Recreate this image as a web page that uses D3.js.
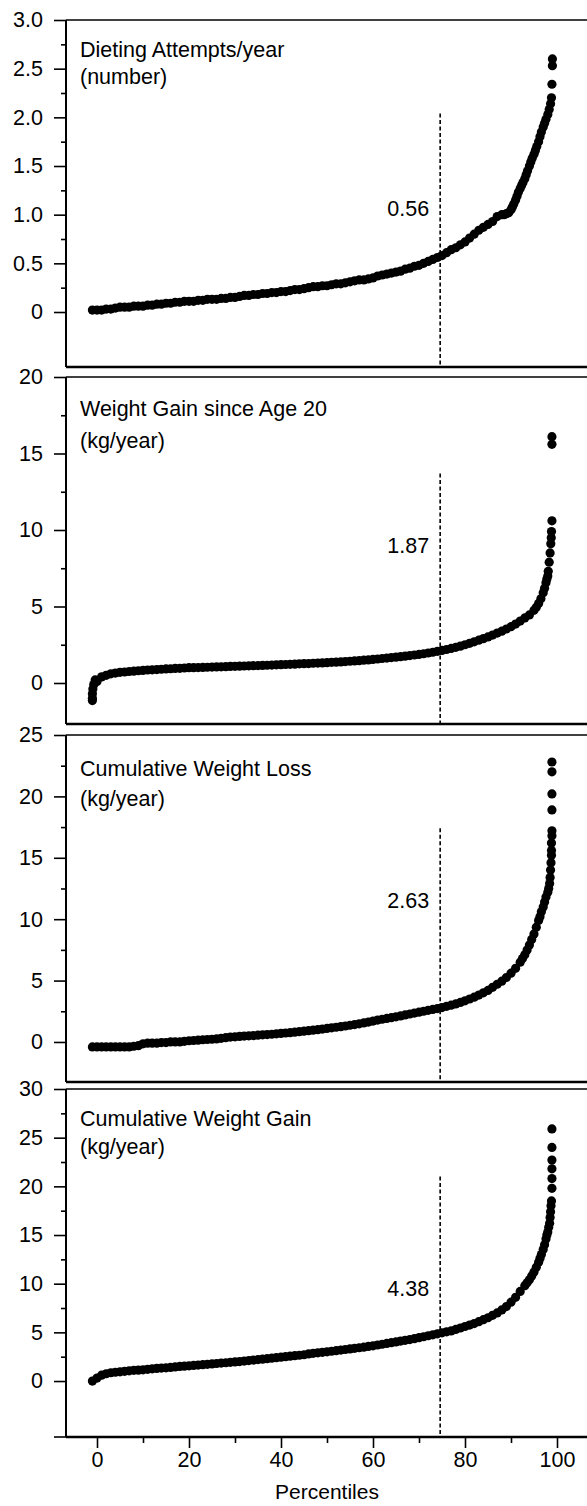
<!DOCTYPE html>
<html>
<head>
<meta charset="utf-8">
<script src="https://cdn.jsdelivr.net/npm/d3@7"></script>
<style>
  body { margin: 0; background: #fff; }
  text { font-family: "Liberation Sans", Arial, Helvetica, sans-serif; }
</style>
</head>
<body>
<div id="root"></div>
<script>
// percentile ranks of the plotted dots
const pct = [-1, 0, 1, 2, 3, 4, 5, 6, 7, 8, 9, 10, 11, 12, 13, 14, 15, 16, 17, 18, 19,
  20, 21, 22, 23, 24, 25, 26, 27, 28, 29, 30, 31, 32, 33, 34, 35, 36, 37, 38, 39,
  40, 41, 42, 43, 44, 45, 46, 47, 48, 49, 50, 51, 52, 53, 54, 55, 56, 57, 58, 59,
  60, 61, 62, 63, 64, 65, 66, 67, 68, 69, 70, 71, 72, 73, 74, 75, 76, 77, 78, 79,
  80, 81, 82, 83, 84, 85, 86, 87, 88, 89, 90, 91, 92, 93, 94, 95, 96, 97, 98];

const dietingAttempts = [0.02, 0.02, 0.02, 0.03, 0.03, 0.04, 0.05, 0.05, 0.05, 0.06, 0.06,
  0.06, 0.07, 0.07, 0.08, 0.08, 0.09, 0.09, 0.10, 0.10, 0.11,
  0.11, 0.11, 0.12, 0.12, 0.13, 0.13, 0.13, 0.14, 0.14, 0.15,
  0.15, 0.16, 0.17, 0.17, 0.18, 0.18, 0.19, 0.19, 0.20, 0.20,
  0.21, 0.21, 0.22, 0.23, 0.23, 0.24, 0.25, 0.26, 0.26, 0.27,
  0.27, 0.28, 0.29, 0.29, 0.30, 0.31, 0.32, 0.33, 0.33, 0.34,
  0.35, 0.37, 0.38, 0.39, 0.40, 0.41, 0.42, 0.44, 0.45, 0.47,
  0.48, 0.50, 0.52, 0.54, 0.56, 0.58, 0.61, 0.64, 0.66, 0.69,
  0.72, 0.76, 0.80, 0.84, 0.87, 0.90, 0.93, 0.98, 1.00, 1.01,
  1.05, 1.15, 1.27, 1.37, 1.50, 1.62, 1.75, 1.90, 2.03];
// extra dots where the curve climbs steeply
const dietingExtra = [[88.5, 1.00], [89.5, 1.02], [90.3, 1.08], [90.6, 1.11], [91.3, 1.19], [91.6, 1.23],
  [92.3, 1.30], [92.6, 1.33], [93.3, 1.41], [93.6, 1.45], [94.3, 1.54], [94.6, 1.58],
  [95.3, 1.66], [95.6, 1.70], [96.3, 1.80], [96.6, 1.85], [97.3, 1.94], [97.6, 1.98],
  [98.3, 2.08], [98.6, 2.14], [98.8, 2.2], [98.9, 2.34], [99, 2.53], [99, 2.6]];

const weightGain20 = [-1.0, 0.1, 0.4, 0.5, 0.6, 0.65, 0.7, 0.72, 0.75, 0.77, 0.8,
  0.82, 0.85, 0.86, 0.88, 0.9, 0.92, 0.93, 0.95, 0.96, 0.98,
  1.0, 1.0, 1.01, 1.02, 1.03, 1.04, 1.05, 1.06, 1.07, 1.08,
  1.09, 1.1, 1.11, 1.12, 1.13, 1.14, 1.15, 1.16, 1.17, 1.19,
  1.2, 1.21, 1.22, 1.23, 1.25, 1.26, 1.27, 1.29, 1.3, 1.31,
  1.33, 1.35, 1.36, 1.38, 1.4, 1.42, 1.44, 1.46, 1.49, 1.51,
  1.54, 1.57, 1.6, 1.63, 1.66, 1.69, 1.72, 1.75, 1.79, 1.83,
  1.87, 1.91, 1.96, 2.01, 2.07, 2.13, 2.19, 2.26, 2.33, 2.41,
  2.5, 2.59, 2.69, 2.8, 2.9, 3.01, 3.13, 3.26, 3.39, 3.53,
  3.68, 3.85, 4.05, 4.25, 4.45, 4.75, 5.2, 5.9, 7.0];
const weightGain20Extra = [[-1, -1.15], [-1, -0.7], [-0.9, -0.4], [-0.7, -0.1], [-0.4, 0.2],
  [95.5, 4.95], [96.5, 5.5], [97.3, 6.2], [97.6, 6.55], [97.8, 6.8],
  [98.1, 7.3], [98.3, 7.9], [98.5, 8.5], [98.65, 9.1], [98.75, 9.5], [98.8, 9.9],
  [98.9, 10.6], [98.9, 15.6], [98.9, 16.1]];

const cumLoss = [-0.4, -0.4, -0.4, -0.4, -0.4, -0.4, -0.4, -0.4, -0.4, -0.35, -0.3,
  -0.15, -0.1, -0.1, -0.1, -0.05, -0.05, 0, 0, 0, 0.05,
  0.1, 0.12, 0.15, 0.18, 0.2, 0.22, 0.25, 0.3, 0.35, 0.4,
  0.42, 0.45, 0.48, 0.5, 0.52, 0.55, 0.58, 0.6, 0.63, 0.66,
  0.7, 0.73, 0.76, 0.8, 0.84, 0.88, 0.92, 0.96, 1.0, 1.05,
  1.1, 1.15, 1.2, 1.25, 1.3, 1.36, 1.42, 1.48, 1.55, 1.62,
  1.7, 1.78, 1.85, 1.92, 1.98, 2.05, 2.12, 2.2, 2.28, 2.35,
  2.43, 2.5, 2.58, 2.65, 2.72, 2.8, 2.9, 3.0, 3.1, 3.22,
  3.35, 3.5, 3.65, 3.82, 4.0, 4.2, 4.45, 4.7, 4.95, 5.25,
  5.6, 6.0, 6.5, 7.1, 7.9, 8.8, 9.9, 11.0, 12.2];
const cumLossExtra = [[92.5, 6.8], [93.5, 7.5], [94.5, 8.35], [95.5, 9.35], [96.3, 10.2], [96.6, 10.6],
  [97.3, 11.4], [97.6, 11.8], [98.2, 12.5], [98.4, 12.9], [98.5, 13.4], [98.6, 14.0],
  [98.7, 14.6], [98.8, 15.2], [98.8, 15.6], [98.8, 16.2], [98.9, 16.8],
  [98.9, 17.2], [98.9, 18.9], [98.9, 20.2], [98.9, 22.0], [98.9, 22.8]];

const cumGain = [0.0, 0.3, 0.6, 0.75, 0.85, 0.9, 0.95, 1.0, 1.05, 1.1, 1.12,
  1.15, 1.2, 1.25, 1.3, 1.33, 1.36, 1.4, 1.45, 1.5, 1.53,
  1.56, 1.6, 1.64, 1.68, 1.72, 1.76, 1.8, 1.84, 1.88, 1.92,
  1.96, 2.0, 2.05, 2.1, 2.15, 2.2, 2.25, 2.3, 2.35, 2.4,
  2.45, 2.5, 2.55, 2.6, 2.65, 2.7, 2.78, 2.85, 2.9, 2.95,
  3.0, 3.06, 3.12, 3.18, 3.24, 3.3, 3.36, 3.42, 3.48, 3.55,
  3.62, 3.7, 3.78, 3.86, 3.94, 4.02, 4.1, 4.18, 4.26, 4.35,
  4.45, 4.55, 4.65, 4.75, 4.85, 4.95, 5.05, 5.15, 5.3, 5.45,
  5.6, 5.75, 5.9, 6.1, 6.3, 6.5, 6.75, 7.0, 7.3, 7.65,
  8.1, 8.6, 9.2, 9.8, 10.4, 11.2, 12.2, 13.5, 15.3];
const cumGainExtra = [[93.5, 10.1], [94.5, 10.8], [95.5, 11.7], [96.3, 12.6], [96.6, 13.0],
  [97.3, 14.0], [97.6, 14.6], [97.8, 15.0], [98.2, 15.8], [98.4, 16.2], [98.5, 16.8],
  [98.6, 17.4], [98.7, 18.0], [98.8, 18.5], [98.9, 19.8], [98.9, 20.8],
  [98.9, 21.8], [98.9, 22.7], [98.9, 24.0], [98.9, 25.9]];

const titles = [
  ["Dieting Attempts/year", "(number)"],
  ["Weight Gain since Age 20", "(kg/year)"],
  ["Cumulative Weight Loss", "(kg/year)"],
  ["Cumulative Weight Gain", "(kg/year)"]
];
const medianLabels = ["0.56", "1.87", "2.63", "4.38"];
const yMax = [3, 20, 25, 30];
const yStep = [0.5, 5, 5, 5];
const xTicks = [0, 20, 40, 60, 80, 100];
const xMinorTicks = [10, 30, 50, 70, 90];
const cutoffPct = 74.6;

const series = [dietingAttempts, weightGain20, cumLoss, cumGain];
const extras = [dietingExtra, weightGain20Extra, cumLossExtra, cumGainExtra];

// layout
let width = 587, height = 1506;
let axisX = 66;
let tops = [20, 377, 735, 1089];
let bottoms = [367, 724, 1082, 1437];
let yMin = [-0.565, -2.68, -3.26, -5.75];
let dashTop = [2.04, 13.7, 17.4, 21];
let labelAt = [1.06, 9.0, 11.5, 9.5];
let titleOffsets = [[37, 64], [39, 71], [41, 71], [37, 65]];
let fontSize = 21.5;

let svg = d3.select('#root').append('svg')
    .attr('width', width)
    .attr('height', height);

let x = d3.scaleLinear().domain([0, 100]).range([97, 557]);

series.forEach(function (vals, i) {
    let top = tops[i], bottom = bottoms[i];
    let y = d3.scaleLinear().domain([yMin[i], yMax[i]]).range([bottom, top]);
    let g = svg.append('g').attr('class', 'panel');

    // frame (right side runs off the picture)
    g.append('line').attr('x1', axisX).attr('x2', width + 5).attr('y1', top).attr('y2', top)
        .attr('stroke', '#000').attr('stroke-width', 1.6);
    g.append('line').attr('x1', axisX).attr('x2', width + 5).attr('y1', bottom).attr('y2', bottom)
        .attr('stroke', '#000').attr('stroke-width', 2.4);
    g.append('line').attr('x1', axisX).attr('x2', axisX).attr('y1', top).attr('y2', bottom)
        .attr('stroke', '#000').attr('stroke-width', 2);

    let major = d3.range(0, yMax[i] + yStep[i] / 10, yStep[i]);
    let minor = d3.range(yStep[i] / 2, yMax[i], yStep[i]);
    let fmt = yStep[i] < 1 ? (d => d === 0 ? "0" : d3.format(".1f")(d)) : d3.format("d");

    let yAxis = g.append('g').attr('transform', 'translate(' + axisX + ',0)')
        .call(d3.axisLeft(y).tickValues(major).tickSize(12).tickPadding(11).tickFormat(fmt));
    yAxis.select('.domain').remove();
    yAxis.selectAll('line').attr('stroke-width', 1.6);
    yAxis.selectAll('text').style('font-size', fontSize + 'px').attr('fill', '#000');

    let yMinorAxis = g.append('g').attr('transform', 'translate(' + axisX + ',0)')
        .call(d3.axisLeft(y).tickValues(minor).tickSize(5).tickFormat(''));
    yMinorAxis.select('.domain').remove();
    yMinorAxis.selectAll('line').attr('stroke-width', 1.6);

    // titles
    g.append('text').attr('x', 80).attr('y', top + titleOffsets[i][0])
        .style('font-size', fontSize + 'px').text(titles[i][0]);
    g.append('text').attr('x', 80).attr('y', top + titleOffsets[i][1])
        .style('font-size', fontSize + 'px').text(titles[i][1]);

    // 75th percentile cut-off
    g.append('line')
        .attr('x1', x(cutoffPct)).attr('x2', x(cutoffPct))
        .attr('y1', y(dashTop[i])).attr('y2', bottom)
        .attr('stroke', '#000').attr('stroke-width', 1.6)
        .attr('stroke-dasharray', '4,2.5');

    g.append('text')
        .attr('x', x(cutoffPct) - 11).attr('y', y(labelAt[i]))
        .attr('dy', '0.35em')
        .attr('text-anchor', 'end')
        .style('font-size', fontSize + 'px')
        .text(medianLabels[i]);

    let pts = vals.map((v, j) => [pct[j], v]).concat(extras[i]);
    g.selectAll('.dot')
        .data(pts)
        .enter().append('circle')
        .attr('class', 'dot')
        .attr('cx', d => x(d[0]))
        .attr('cy', d => y(d[1]))
        .attr('r', 4.6)
        .attr('fill', '#000');
});

// shared percentile axis under the last panel
let xAxis = svg.append('g').attr('transform', 'translate(0,' + bottoms[3] + ')')
    .call(d3.axisBottom(x).tickValues(xTicks).tickSize(11).tickPadding(4));
xAxis.select('.domain').remove();
xAxis.selectAll('line').attr('stroke-width', 1.6);
xAxis.selectAll('text').style('font-size', fontSize + 'px').attr('fill', '#000');

let xMinorAxis = svg.append('g').attr('transform', 'translate(0,' + bottoms[3] + ')')
    .call(d3.axisBottom(x).tickValues(xMinorTicks).tickSize(6).tickFormat(''));
xMinorAxis.select('.domain').remove();
xMinorAxis.selectAll('line').attr('stroke-width', 1.6);

// bottom axis line starts at the tick stub left of the frame
svg.append('line').attr('x1', 54).attr('x2', axisX).attr('y1', bottoms[3]).attr('y2', bottoms[3])
    .attr('stroke', '#000').attr('stroke-width', 1.6);

svg.append('text')
    .attr('x', x(50)).attr('y', 1499)
    .attr('text-anchor', 'middle')
    .style('font-size', '21px')
    .text('Percentiles');
</script>
</body>
</html>
